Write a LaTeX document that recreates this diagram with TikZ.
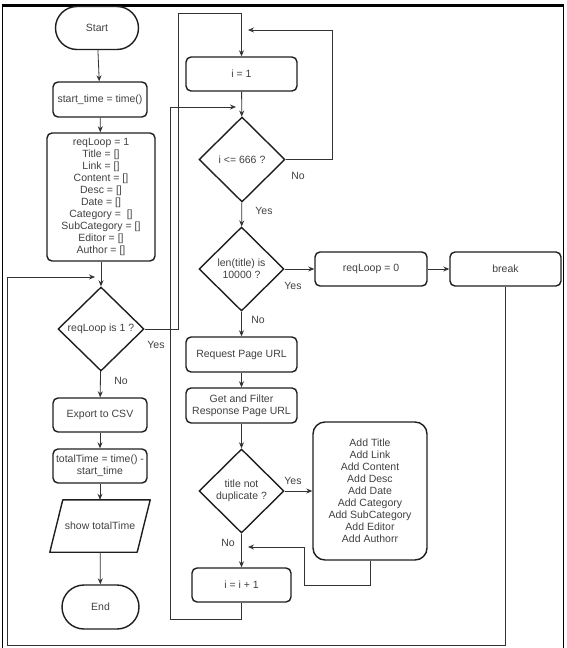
\documentclass[tikz,border=0pt]{standalone}
\usepackage{fontspec}
\setmainfont{Liberation Sans}
\usetikzlibrary{shapes.geometric,shapes.misc,arrows.meta}
\definecolor{textgray}{HTML}{404040}
\definecolor{linegray}{HTML}{1E1E1E}
\definecolor{conngray}{HTML}{333333}
\begin{document}
\begin{tikzpicture}[x=1pt,y=-1pt,
  txt/.style={text=textgray, font=\fontsize{10.5}{12}\selectfont, align=center},
  box/.style={txt, draw=linegray, line width=1.4pt, rectangle, rounded corners=5pt, inner sep=0pt},
  term/.style={txt, draw=linegray, line width=1.4pt, rounded rectangle, inner sep=0pt},
  dec/.style={txt, draw=linegray, line width=1.4pt, diamond, inner sep=0pt, minimum width=86pt, minimum height=84pt},
  io/.style={txt, rectangle, inner sep=0pt},
  ioline/.style={draw=linegray, line width=1.4pt, line join=round},
  conn/.style={draw=conngray, line width=0.8pt},
  arr/.style={conn, -{Stealth[length=6pt,width=5pt]}},
  lbl/.style={txt}
]
\useasboundingbox (0,0) rectangle (566,648);
% frame
\draw[black, line width=1.8pt] (2.5,648) -- (2.5,5);
\draw[black, line width=1.8pt] (563.5,648) -- (563.5,5);
\draw[black, line width=3pt] (1.6,5) -- (564.4,5);

% left column
\node[term, minimum width=83pt, minimum height=43pt] (start) at (97,28) {Start};
\node[box, minimum width=94pt, minimum height=35pt] (st) at (100,99.5) {start\_time = time()};
\node[box, minimum width=108pt, minimum height=128pt] (init) at (101,197) {reqLoop = 1\\Title = []\\Link = []\\Content = []\\Desc = []\\Date = []\\Category = ~[]\\SubCategory = []\\Editor = []\\Author = []};
\node[dec] (q1) at (101,329) {reqLoop is 1 ?};
\node[box, minimum width=94pt, minimum height=34pt] (exp) at (100,415) {Export to CSV};
\node[box, minimum width=94pt, minimum height=34pt] (tot) at (100,466) {totalTime = time() -\\start\_time};
\node[io, minimum width=87pt, minimum height=52pt] (show) at (100,526) {show totalTime};
\draw[ioline] ([xshift=-6.5pt]show.south west) -- ([xshift=6.5pt]show.north west)
  -- ([xshift=6.5pt]show.north east) -- ([xshift=-6.5pt]show.south east) -- cycle;
\node[term, minimum width=77pt, minimum height=44pt] (end) at (100.5,607) {End};

% middle column
\node[box, minimum width=111pt, minimum height=34pt] (i1) at (241.5,74) {i = 1};
\node[dec, minimum height=85pt] (q2) at (242,159.5) {i <= 666 ?};
\node[dec, minimum width=85pt] (q3) at (241.5,269) {len(title) is\\10000 ?};
\node[box, minimum width=112pt, minimum height=34pt] (rl0) at (371,269) {reqLoop = 0};
\node[box, minimum width=111pt, minimum height=34pt] (brk) at (505.5,269) {break};
\node[box, minimum width=111pt, minimum height=35pt] (req) at (241.5,354.5) {Request Page URL};
\node[box, minimum width=111pt, minimum height=35pt] (get) at (241.5,405.5) {Get and Filter\\Response Page URL};
\node[dec, minimum width=85pt] (q4) at (241.5,491) {title not\\duplicate ?};
\node[box, rounded corners=12pt, minimum width=114pt, minimum height=138pt] (add) at (370,491) {Add Title\\Add Link\\Add Content\\Add Desc\\Add Date\\Add Category\\Add SubCategory\\Add Editor\\Add Authorr};
\node[box, minimum width=99pt, minimum height=34pt] (inc) at (241.5,585) {i = i + 1};

% helper coordinates
\coordinate (j1) at (95,277);
\coordinate (b1) at (7,645);
\coordinate (y1) at (178,13);
\coordinate (n1) at (332,30);
\coordinate (j4) at (248,30);
\coordinate (c1) at (170,619);
\coordinate (j2) at (236,107);
\coordinate (a1) at (304,585);
\coordinate (j3) at (248,547);

% left column connectors
\draw[arr] (start) -- (st);
\draw[arr] (st) -- (init);
\draw[arr] (init) -- (q1);
\draw[arr] (q1) -- (exp);
\draw[arr] (exp) -- (tot);
\draw[arr] (tot) -- (show);
\draw[arr] (show) -- (end);
\draw[arr] (q1.east) -| (y1) -| (i1.north);

% middle connectors
\draw[arr] (i1) -- (q2);
\draw[arr] (q2.east) -| (n1) -- (j4);
\draw[arr] (q2) -- (q3);
\draw[arr] (q3) -- (rl0);
\draw[arr] (rl0) -- (brk);
\draw[arr] (q3) -- (req);
\draw[arr] (req) -- (get);
\draw[arr] (get) -- (q4);
\draw[arr] (q4) -- (add);
\draw[arr] (q4) -- (inc);
\draw[arr] (add.south) |- (a1) |- (j3);
\draw[arr] (inc.south) |- (c1) |- (j2);
\draw[arr] (brk.south) |- (b1) |- (j1);

% labels
\node[lbl] at (156,345) {Yes};
\node[lbl] at (121,381) {No};
\node[lbl] at (298,176) {No};
\node[lbl] at (264,211) {Yes};
\node[lbl] at (293,286) {Yes};
\node[lbl] at (258,320) {No};
\node[lbl] at (293,481) {Yes};
\node[lbl] at (228,543) {No};
\end{tikzpicture}
\end{document}
